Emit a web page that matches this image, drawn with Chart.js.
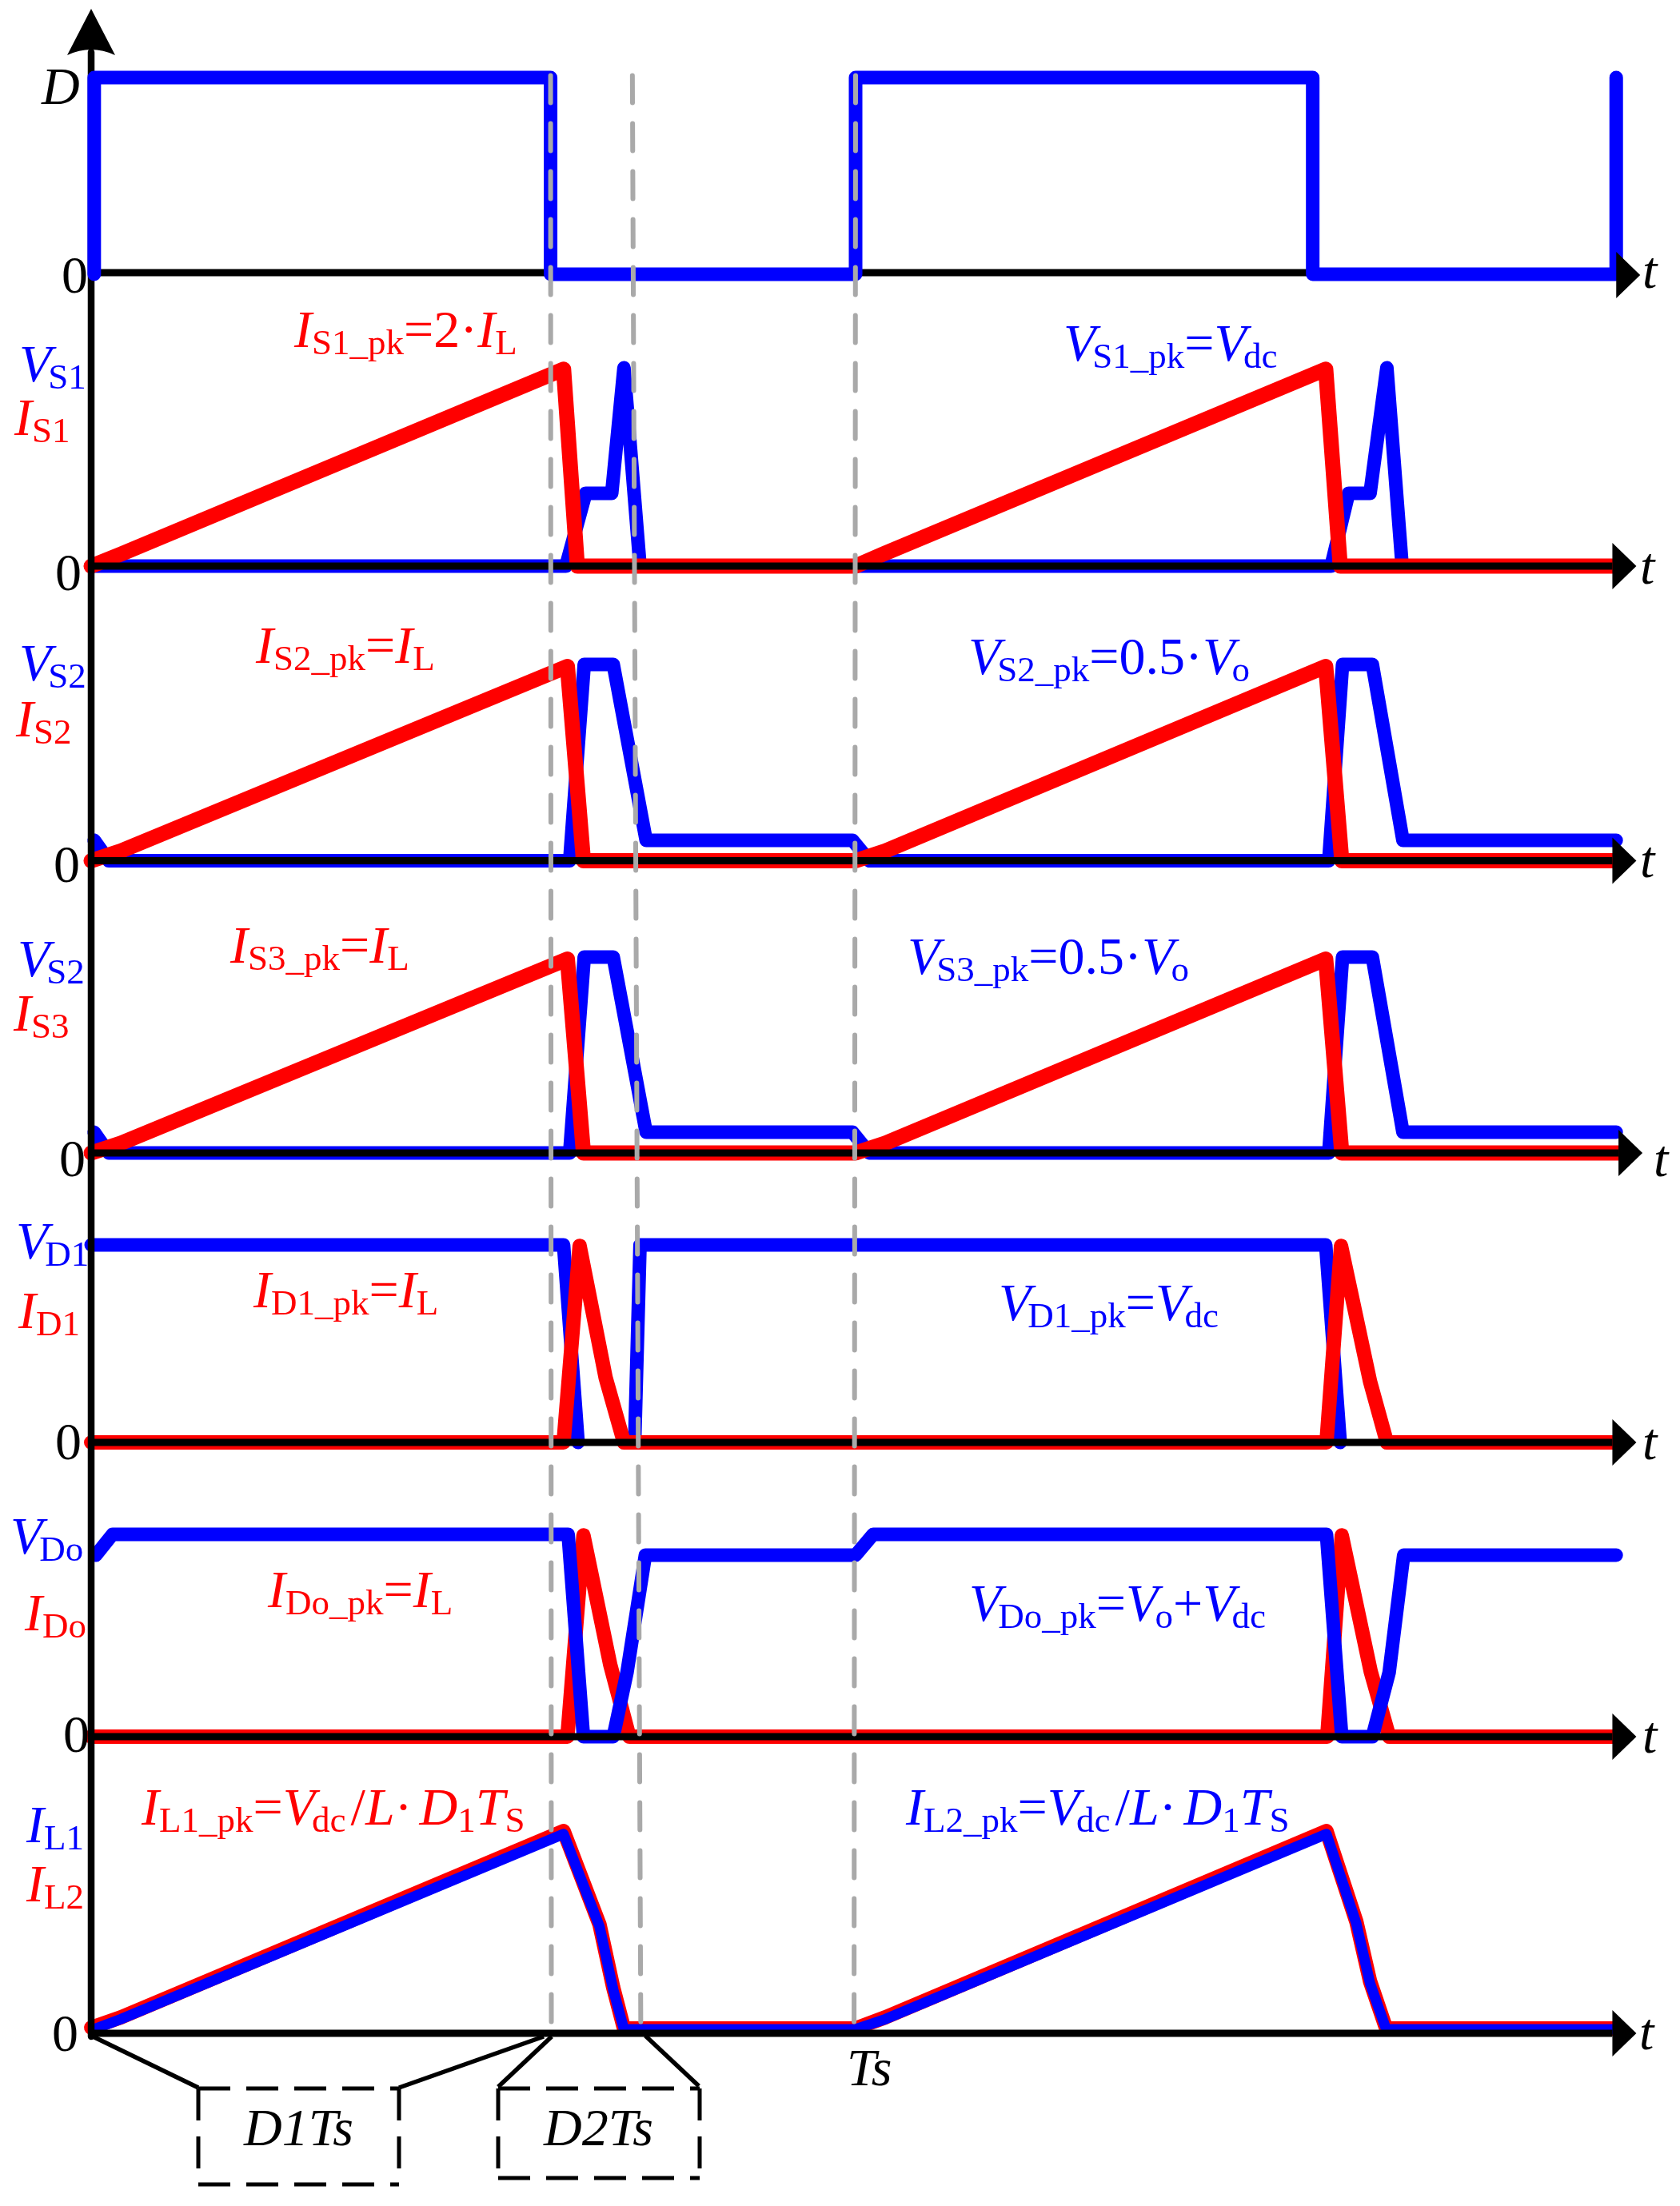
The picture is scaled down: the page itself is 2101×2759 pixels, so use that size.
<!DOCTYPE html>
<html>
<head>
<meta charset="utf-8">
<script src="https://cdn.jsdelivr.net/npm/chart.js@4"></script>
<style>
html, body { margin: 0; padding: 0; background: #fff; overflow: hidden; }
#wrap { position: relative; width: 2101px; height: 2759px; }
canvas { position: absolute; left: 0; top: 0; }
.lb { position: absolute; white-space: nowrap; font-family: "Liberation Serif", serif; font-size: 66px; line-height: normal; }
.lb sub { font-size: 45px; vertical-align: baseline; position: relative; top: 9px; }
.lb i.v + sub { margin-left: -4px; }
</style>
</head>
<body>
<div id="wrap"><canvas id="c" width="2101" height="2759"></canvas></div>
<script>
// time is in percent of the switching period, levels in percent of each panel's peak
var d_t = [0.4, 0.4, 60.1, 60.1, 100, 100, 159.8, 159.8, 199.5, 199.5];
var d_y = [-0.8, 100, 100, -0.8, -0.8, 100, 100, -0.8, -0.8, 100];

var vs1_t = [0.4, 62.1, 64.7, 68.1, 69.7, 71.8, 100, 162.2, 164.5, 167.3, 169.5, 171.5, 199];
var vs1_y = [0, 0, 36.4, 36.4, 99.2, 0, 0, 0, 36.4, 36.4, 99.2, 0, 0];
var is1_t = [0, 3.9, 61.8, 63.6, 100, 103.6, 161.5, 163.4, 199];
var is1_y = [0, 6, 98.5, 0, 0, 6, 98.5, 0, 0];

var vs2_t = [0.4, 2.3, 62.6, 64.5, 68.3, 72.6, 99.6, 101.8, 161.9, 163.7, 167.6, 171.6, 199.5];
var vs2_y = [10.4, 0, 0, 100, 100, 10.4, 10.4, 0, 0, 100, 100, 10.4, 10.4];
var is2_t = [0, 3.9, 62.3, 64.4, 100, 103.9, 161.5, 163.6, 199];
var is2_y = [0, 5, 99, 0, 0, 5, 99, 0, 0];

var vs3_t = [0.4, 2.3, 62.6, 64.5, 68.3, 72.6, 99.6, 101.8, 161.9, 163.7, 167.6, 171.6, 199.5];
var vs3_y = [10.6, 0, 0, 100, 100, 10.6, 10.6, 0, 0, 100, 100, 10.6, 10.6];
var is3_t = [0, 3.9, 62.3, 64.4, 100, 103.9, 161.5, 163.6, 199.8];
var is3_y = [0, 5, 99, 0, 0, 5, 99, 0, 0];

var vd1_t = [0, 61.8, 63.7, 68, 71.1, 71.8, 161.5, 163.4];
var vd1_y = [100, 100, 0, null, 0, 100, 100, 0];
var id1_t = [0, 61.8, 63.9, 67.3, 69.7, 161.6, 163.5, 167.3, 169.5, 199];
var id1_y = [0, 0, 99.5, 32.8, 0, 0, 99.5, 30.8, 0, 0];

var vdo_t = [0.6, 2.8, 62.4, 64.4, 68.3, 70.1, 72.5, 100, 102.3, 161.6, 163.6, 167.6, 169.8, 171.7, 199.5];
var vdo_y = [89.7, 100, 100, 0, 0, 31.8, 89.7, 89.7, 100, 100, 0, 0, 31.8, 89.7, 89.7];
var ido_t = [0, 62.3, 64.4, 67.9, 70.4, 161.7, 163.6, 167.4, 169.8, 199];
var ido_y = [0, 0, 99.5, 35.6, 0, 0, 99.5, 32, 0, 0];

var il2_t = [0, 3.9, 61.8, 66.5, 68.3, 69.7, 100, 103.9, 161.6, 165.5, 167.3, 169.4, 199];
var il2_y = [2.8, 7.9, 100, 53.8, 22.5, 2.4, 2.4, 7.9, 100, 55.3, 25.7, 2.4, 2.4];
var il1_t = [0.4, 3.9, 61.8, 66.5, 68.3, 69.7, 100, 103.9, 161.6, 165.5, 167.3, 169.4, 199];
var il1_y = [2, 7, 98.5, 52.8, 21.5, 2, 2, 7, 98.5, 54.3, 24.7, 2, 2];

var axis_end = [199.5, 199, 199, 199.8, 199, 199, 199];
var guide_t = [[60.1, 60.2], [70.8, 71.9], [100, 99.8]];
var guide_y = [100.1, 0.3];

var x_px0 = 114, x_px_per = 9.56;
var panel_base = [341, 708, 1076.5, 1442, 1804, 2172, 2543];
var panel_unit = [244, 250, 245.5, 245, 247, 253, 253];
var W = 2101, H = 2759;
var BLUE = "#0000ff", RED = "#ff0000";

function pts(t, y) {
    return t.map(function(v, i) { return {x: v, y: y[i]}; });
}

function trace(t, y, color, width, panel, order) {
    return {
        data: pts(t, y),
        yAxisID: "p" + panel,
        borderColor: color,
        borderWidth: width,
        borderCapStyle: "round",
        borderJoinStyle: "round",
        showLine: true,
        pointRadius: 0,
        spanGaps: false,
        order: order
    };
}

var datasets = [];
// order: lower ends up on top
datasets.push(trace(guide_t[0], guide_y, "#a9a9a9", 6, "g", 1));
datasets.push(trace(guide_t[1], guide_y, "#a9a9a9", 6, "g", 1));
datasets.push(trace(guide_t[2], guide_y, "#a9a9a9", 6, "g", 1));
datasets.forEach(function(ds) { ds.borderDash = [34, 26]; });

datasets.push(trace(d_t, d_y, BLUE, 17, 0, 2));

panel_base.forEach(function(b, i) {
    var line = trace([0, axis_end[i]], [0, 0], "#000", 9, i, 3);
    line.borderCapStyle = "butt";
    datasets.push(line);
});
var y_axis = trace([0, 0], [101.3, -0.16], "#000", 8.5, "g", 3);
y_axis.borderCapStyle = "butt";
datasets.push(y_axis);

datasets.push(trace(is1_t, is1_y, RED, 19, 1, 4));
datasets.push(trace(vs1_t, vs1_y, BLUE, 17, 1, 5));
datasets.push(trace(is2_t, is2_y, RED, 19, 2, 4));
datasets.push(trace(vs2_t, vs2_y, BLUE, 17, 2, 5));
datasets.push(trace(is3_t, is3_y, RED, 19, 3, 4));
datasets.push(trace(vs3_t, vs3_y, BLUE, 17, 3, 5));
datasets.push(trace(id1_t, id1_y, RED, 18, 4, 4));
datasets.push(trace(vd1_t, vd1_y, BLUE, 17, 4, 5));
datasets.push(trace(vdo_t, vdo_y, BLUE, 17, 5, 4));
datasets.push(trace(ido_t, ido_y, RED, 18, 5, 5));
datasets.push(trace(il1_t, il1_y, BLUE, 13, 6, 4));
datasets.push(trace(il2_t, il2_y, RED, 18, 6, 5));

var scales = {
    x: {type: "linear", display: false, min: -x_px0 / x_px_per, max: (W - x_px0) / x_px_per}
};
panel_base.forEach(function(b, i) {
    scales["p" + i] = {type: "linear", display: false, min: (b - H) * 100 / panel_unit[i], max: b * 100 / panel_unit[i]};
});
// tall scale shared by the y axis and the dashed guides
scales["pg"] = {type: "linear", display: false, min: (2543 - H) / 24.46, max: 2543 / 24.46};

var arrowsAndBoxes = {
    id: "arrowsAndBoxes",
    afterDatasetsDraw: function(chart) {
        var ctx = chart.ctx;
        var sx = chart.scales.x;
        ctx.save();
        ctx.fillStyle = "#000";
        ctx.strokeStyle = "#000";
        // arrow heads on the time axes
        panel_base.forEach(function(b, i) {
            var px = sx.getPixelForValue(axis_end[i]);
            var py = chart.scales["p" + i].getPixelForValue(0);
            if (i == 0) py += 3;
            ctx.beginPath();
            ctx.moveTo(px, py - 29);
            ctx.lineTo(px + 30, py);
            ctx.lineTo(px, py + 29);
            ctx.closePath();
            ctx.fill();
        });
        // arrow head on the y axis
        ctx.beginPath();
        ctx.moveTo(114, 11);
        ctx.lineTo(144, 69);
        ctx.quadraticCurveTo(114, 55, 84, 69);
        ctx.closePath();
        ctx.fill();

        // connectors from the axis to the two duty boxes
        ctx.lineWidth = 5.5;
        [[114, 2546, 248, 2611], [499, 2611, 680, 2547], [690, 2547, 623, 2610], [807, 2546, 874, 2609]].forEach(function(s) {
            ctx.beginPath();
            ctx.moveTo(s[0], s[1]);
            ctx.lineTo(s[2], s[3]);
            ctx.stroke();
        });
        ctx.setLineDash([40, 20]);
        ctx.lineWidth = 5;
        [[248, 2612, 499, 2732], [623, 2612, 875, 2724]].forEach(function(r) {
            [[r[0], r[1], r[2], r[1]], [r[0], r[1], r[0], r[3]], [r[2], r[1], r[2], r[3]], [r[0], r[3], r[2], r[3]]].forEach(function(s) {
                ctx.beginPath();
                ctx.moveTo(s[0], s[1]);
                ctx.lineTo(s[2], s[3]);
                ctx.stroke();
            });
        });
        ctx.restore();
    }
};

new Chart(document.getElementById("c"), {
    type: "scatter",
    data: {datasets: datasets},
    options: {
        responsive: false,
        animation: false,
        devicePixelRatio: 1,
        events: [],
        layout: {padding: 0},
        scales: scales,
        plugins: {legend: {display: false}, tooltip: {enabled: false}}
    },
    plugins: [arrowsAndBoxes]
});

var V = '<i class="v">V</i>';
var LDT = '<span style="margin-left:6px">/</span><i>L</i>·<i style="margin-left:9px">D</i><sub>1</sub><i>T</i><sub>S</sub>';

// labels: html, left edge, baseline, colour
var labels = [
    ["<i>D</i>", 52, 130, "#000"],
    ["0", 77, 366, "#000"], ["0", 69, 738, "#000"], ["0", 67, 1103, "#000"], ["0", 74, 1471, "#000"],
    ["0", 69, 1825, "#000"], ["0", 79, 2191, "#000"], ["0", 65, 2565, "#000"],
    ["<i>t</i>", 2054, 360, "#000"], ["<i>t</i>", 2051, 730, "#000"], ["<i>t</i>", 2051, 1097, "#000"], ["<i>t</i>", 2068, 1471, "#000"],
    ["<i>t</i>", 2054, 1825, "#000"], ["<i>t</i>", 2054, 2192, "#000"], ["<i>t</i>", 2050, 2563, "#000"],
    [V + "<sub>S1</sub>", 24, 477, BLUE], ["<i>I</i><sub>S1</sub>", 18, 544, RED],
    [V + "<sub>S2</sub>", 24, 851, BLUE], ["<i>I</i><sub>S2</sub>", 20, 921, RED],
    [V + "<sub>S2</sub>", 22, 1221, BLUE], ["<i>I</i><sub>S3</sub>", 17, 1289, RED],
    [V + "<sub>D1</sub>", 20, 1574, BLUE], ["<i>I</i><sub>D1</sub>", 23, 1661, RED],
    [V + "<sub>Do</sub>", 13, 1943, BLUE], ["<i>I</i><sub>Do</sub>", 31, 2039, RED],
    ["<i>I</i><sub>L1</sub>", 33, 2304, BLUE], ["<i>I</i><sub>L2</sub>", 33, 2378, RED],
    ["<i>I</i><sub>S1_pk</sub>=2·<i>I</i><sub>L</sub>", 368, 434, RED],
    [V + "<sub>S1_pk</sub>=" + V + "<sub>dc</sub>", 1330, 451, BLUE],
    ["<i>I</i><sub>S2_pk</sub>=<i>I</i><sub>L</sub>", 320, 829, RED],
    [V + "<sub>S2_pk</sub>=0.5·" + V + "<sub>o</sub>", 1211, 843, BLUE],
    ["<i>I</i><sub>S3_pk</sub>=<i>I</i><sub>L</sub>", 288, 1204, RED],
    [V + "<sub>S3_pk</sub>=0.5·" + V + "<sub>o</sub>", 1135, 1218, BLUE],
    ["<i>I</i><sub>D1_pk</sub>=<i>I</i><sub>L</sub>", 317, 1635, RED],
    [V + "<sub>D1_pk</sub>=" + V + "<sub>dc</sub>", 1249, 1651, BLUE],
    ["<i>I</i><sub>Do_pk</sub>=<i>I</i><sub>L</sub>", 335, 2010, RED],
    [V + "<sub>Do_pk</sub>=" + V + "<sub>o</sub>+" + V + "<sub>dc</sub>", 1212, 2027, BLUE],
    ["<i>I</i><sub>L1_pk</sub>=" + V + "<sub>dc</sub>" + LDT, 177, 2282, RED],
    ["<i>I</i><sub>L2_pk</sub>=" + V + "<sub>dc</sub>" + LDT, 1133, 2282, BLUE],
    ["<i>Ts</i>", 1059, 2608, "#000"],
    ["<i>D1Ts</i>", 305, 2683, "#000"],
    ["<i>D2Ts</i>", 680, 2683, "#000"]
];

var wrap = document.getElementById("wrap");
labels.forEach(function(l) {
    var el = document.createElement("div");
    el.className = "lb";
    el.innerHTML = l[0];
    el.style.left = l[1] + "px";
    el.style.top = (l[2] - 0.912 * 66) + "px";
    el.style.color = l[3];
    wrap.append(el);
});
</script>
</body>
</html>
